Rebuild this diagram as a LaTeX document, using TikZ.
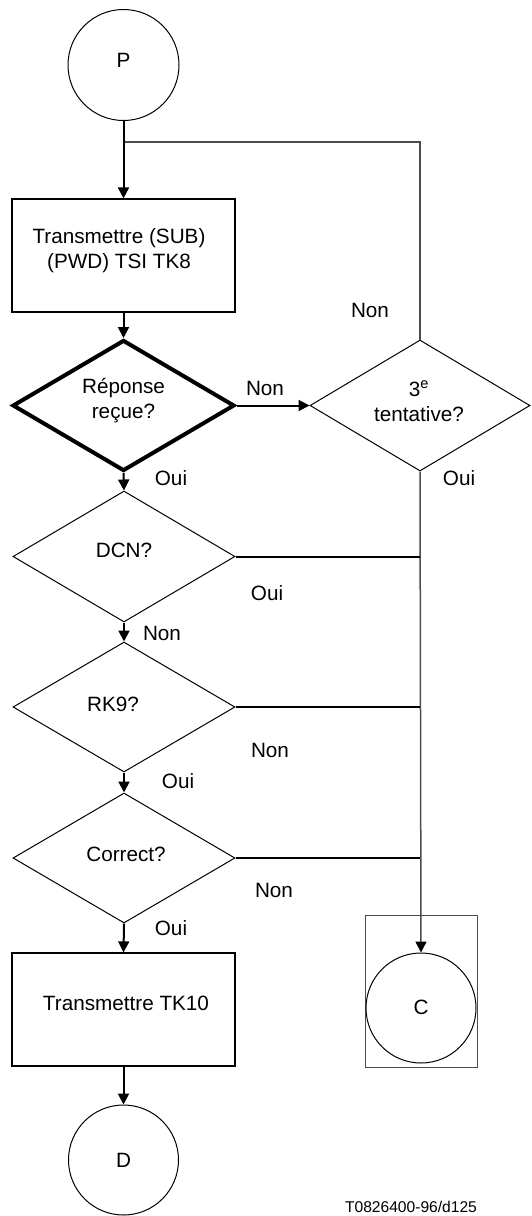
\documentclass[tikz,border=0pt]{standalone}
\usepackage{fontspec}
\setmainfont{Liberation Sans}
\usetikzlibrary{shapes.geometric,arrows.meta}
\begin{document}
\begin{tikzpicture}[x=1pt,y=-1pt,
  every node/.style={font=\fontsize{20.7pt}{25pt}\selectfont, inner sep=0pt},
  circ/.style={circle, draw, line width=1pt, minimum size=111pt},
  boxnode/.style={rectangle, draw, line width=1.2pt, minimum width=223pt, minimum height=113pt},
  dia/.style={diamond, draw, line width=1pt, minimum width=222pt, minimum height=131pt, aspect=1.68},
  thickdia/.style={dia, line width=4pt},
  arr/.style={line width=2pt, -{Triangle[length=11pt,width=11pt]}},
  conn/.style={line width=2pt},
  back/.style={line width=1.5pt, draw=black!70},
  lbl/.style={align=center}
]
\useasboundingbox (0,0) rectangle (531,1216);

% nodes
\node[circ] (P) at (123.5,65) {};
\node (Pt) at (123.5,60) {P};
\node[boxnode] (b1) at (123.5,255.5) {};
\node[lbl] (b1t) at (119,251) {Transmettre (SUB)\\(PWD) TSI TK8};
\node[thickdia] (d1) at (123.5,405.5) {};
\node[lbl] (d1t) at (123.5,401) {Réponse\\reçue?};
\node[dia, minimum width=220pt] (d3) at (420,405.5) {};
\node[lbl] (d3t) at (419,401) {3\textsuperscript{e}\\tentative?};
\node[dia] (dcn) at (124,556.5) {};
\node (dcnt) at (124,550) {DCN?};
\node[dia, minimum height=130pt] (rk) at (124,707) {};
\node (rkt) at (113,704) {RK9?};
\node[dia, minimum height=130pt] (cor) at (124,858) {};
\node (cort) at (126,854) {Correct?};
\node[boxnode] (b2) at (123.5,1009.5) {};
\node (b2t) at (126,1003) {Transmettre TK10};
\node[circ, minimum size=110pt] (D) at (123.5,1160) {};
\node (Dt) at (123.5,1160) {D};
\node[rectangle, draw=black!70, line width=1pt, minimum width=112pt, minimum height=152pt] (Cf) at (421,991) {};
\node[circ, minimum size=110pt] (C) at (421,1008) {};
\node (Ct) at (421,1007) {C};
\node[font=\fontsize{15.6pt}{18pt}\selectfont] (ref) at (411,1207) {T0826400-96/d125};

% labels
\node (l1) at (265,388) {Non};
\node (l2) at (370,310) {Non};
\node (l3) at (171,478) {Oui};
\node (l4) at (459,478) {Oui};
\node (l5) at (267,593) {Oui};
\node (l6) at (162,633) {Non};
\node (l7) at (270,750) {Non};
\node (l8) at (178,781) {Oui};
\node (l9) at (274,890) {Non};
\node (l10) at (171,928) {Oui};

% connectors
\coordinate (j1) at (123.5,142);
\draw[back] (j1) -| (d3.north);
\draw[arr] (P.south) -- (b1.north);
\draw[arr] (b1.south) -- (d1.north);
\draw[arr] (d1.east) -- (d3.west);
\draw[arr] (d1.south) -- (dcn.north);
\draw[back, -{Triangle[length=11pt,width=11pt,color=black]}] (d3.south) -- (C.north);
\draw[conn] (dcn.east) -- (dcn.east -| d3.south);
\draw[arr] (dcn.south) -- (rk.north);
\draw[conn] (rk.east) -- (rk.east -| d3.south);
\draw[arr] (rk.south) -- (cor.north);
\draw[conn] (cor.east) -- (cor.east -| d3.south);
\draw[arr] (cor.south) -- (b2.north);
\draw[arr] (b2.south) -- (D.north);
\end{tikzpicture}
\end{document}
